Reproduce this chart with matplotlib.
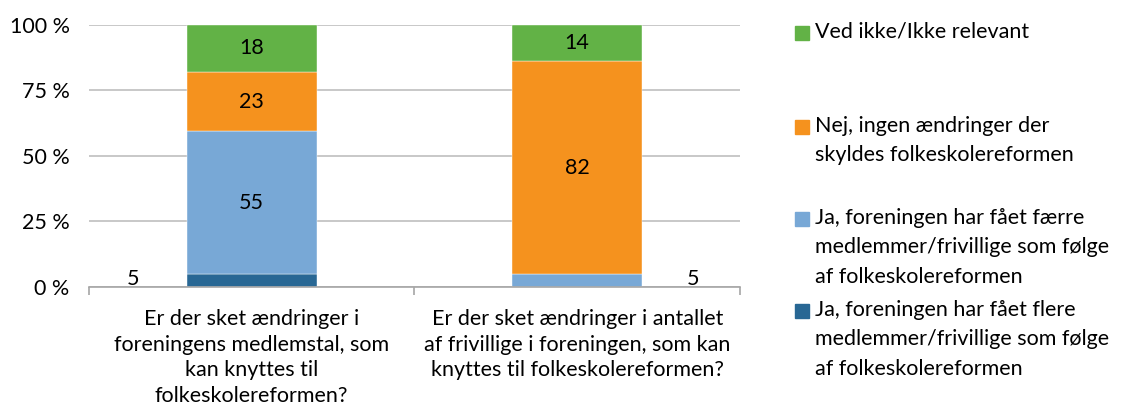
import matplotlib
matplotlib.use("Agg")
import matplotlib.pyplot as plt
from matplotlib.patches import Rectangle
import numpy as np

plt.rcParams["font.family"] = ["Lato", "DejaVu Sans"]

categories = [
    "Er der sket ændringer i\nforeningens medlemstal, som\nkan knyttes til\nfolkeskolereformen?",
    "Er der sket ændringer i antallet\naf frivillige i foreningen, som kan\nknyttes til folkeskolereformen?",
]
series_labels = [
    "Ja, foreningen har fået flere\nmedlemmer/frivillige som følge\naf folkeskolereformen",
    "Ja, foreningen har fået færre\nmedlemmer/frivillige som følge\naf folkeskolereformen",
    "Nej, ingen ændringer der\nskyldes folkeskolereformen",
    "Ved ikke/Ikke relevant",
]
values = [
    [5, 0],    # flere
    [55, 5],   # færre
    [23, 82],  # nej
    [18, 14],  # ved ikke
]
colors = ["#286794", "#78A8D6", "#F5921E", "#62B246"]

FS = 15.5
vals = np.array(values, dtype=float)
shares = vals / vals.sum(axis=0) * 100

fig = plt.figure(figsize=(11.22, 4.13), dpi=100)
ax = fig.add_axes([0.0793, 0.3051, 0.5802, 0.6344])

x = np.arange(len(categories)) + 0.5
bottom = np.zeros(len(categories))
for i in range(len(values)):
    ax.bar(x, shares[i], 0.4, bottom=bottom, color=colors[i], zorder=2,
           edgecolor="white", linewidth=0.3)
    for j in range(len(categories)):
        v = values[i][j]
        if v == 0:
            continue
        yc = bottom[j] + shares[i][j] / 2
        if v < 10:
            dx = -119 if j == 0 else 116
            ax.annotate(str(v), (x[j], yc), xytext=(dx, 2),
                        textcoords="offset pixels", ha="center", va="center",
                        fontsize=FS, color="black")
        else:
            ax.text(x[j], yc, str(v), ha="center", va="center",
                    fontsize=FS, color="black")
    bottom += shares[i]

ax.set_xlim(0, len(categories))
ax.set_ylim(0, 100)
ax.set_yticks([0, 25, 50, 75, 100])
ax.set_yticklabels([f"{t} %" for t in [0, 25, 50, 75, 100]], fontsize=FS)
ax.tick_params(axis="y", length=0, pad=14)
ax.yaxis.grid(True, color="#BFBFBF", linewidth=1.2, zorder=0)
ax.set_axisbelow(True)

ax.set_xticks(x)
ax.set_xticklabels(categories, fontsize=FS, linespacing=1.34, va="top")
ax.tick_params(axis="x", which="major", length=0, pad=16)
ax.set_xticks(np.arange(len(categories) + 1), minor=True)
ax.tick_params(axis="x", which="minor", length=6, color="#A6A6A6", width=1.2)

for s in ["top", "right", "left"]:
    ax.spines[s].set_visible(False)
ax.spines["bottom"].set_color("#A6A6A6")
ax.spines["bottom"].set_linewidth(1.2)

# legend, top to bottom in reverse stacking order
W, H = 1122, 413
legend_centers = [311, 219, 127, 33]
for i in range(len(series_labels) - 1, -1, -1):
    yc = legend_centers[i]
    fig.add_artist(Rectangle((795 / W, 1 - (yc + 7) / H), 14 / W, 14 / H,
                             transform=fig.transFigure, color=colors[i]))
    fig.text(815 / W, 1 - (yc - 11) / H, series_labels[i], fontsize=FS,
             ha="left", va="top", linespacing=1.58)

fig.savefig("out.png", dpi=100)
